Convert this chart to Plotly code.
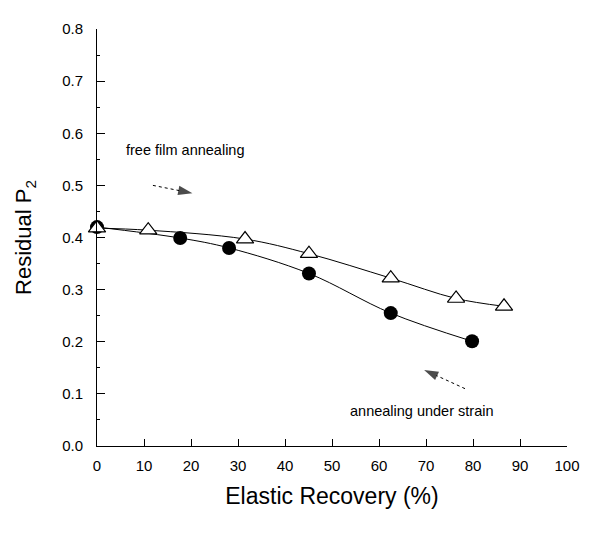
import plotly.graph_objects as go

# Data
strain_x = [0, 17.7, 28.1, 45.1, 62.5, 79.8]
strain_y = [0.42, 0.399, 0.380, 0.331, 0.255, 0.201]
free_x = [0, 10.9, 31.5, 45.1, 62.5, 76.4, 86.6]
free_y = [0.418, 0.414, 0.397, 0.369, 0.322, 0.283, 0.268]

# Arrow indicators (tail -> head)
free_arrow_x = [11.9, 20.3]
free_arrow_y = [0.500, 0.485]
strain_arrow_x = [78.3, 69.6]
strain_arrow_y = [0.110, 0.146]

x_ticks = list(range(0, 101, 10))
y_ticks = [0.0, 0.1, 0.2, 0.3, 0.4, 0.5, 0.6, 0.7, 0.8]

FONT = "Liberation Sans, Arial, sans-serif"

fig = go.Figure()
fig.add_trace(go.Scatter(
    x=strain_x, y=strain_y, mode="lines+markers", line_shape="spline",
    line=dict(color="black", width=1),
    marker=dict(symbol="circle", size=14, color="black"),
    cliponaxis=False, showlegend=False, name="annealing under strain"))
fig.add_trace(go.Scatter(
    x=free_x, y=free_y, mode="lines+markers", line_shape="spline",
    line=dict(color="black", width=1),
    marker=dict(symbol="triangle-up", size=15, color="white",
                line=dict(color="black", width=1.2)),
    cliponaxis=False, showlegend=False, name="free film annealing"))

for ax_, ay_ in ((free_arrow_x, free_arrow_y), (strain_arrow_x, strain_arrow_y)):
    fig.add_trace(go.Scatter(
        x=ax_, y=ay_, mode="lines+markers",
        line=dict(color="black", width=1, dash="dot"),
        marker=dict(symbol="arrow", size=[0, 15], angleref="previous", color="black",
                    line=dict(width=0)),
        showlegend=False, hoverinfo="skip"))

fig.add_annotation(x=18.9, y=0.567, text="free film annealing", showarrow=False,
                   font=dict(size=14.5, color="black", family=FONT))
fig.add_annotation(x=69.2, y=0.068, text="annealing under strain", showarrow=False,
                   font=dict(size=14.5, color="black", family=FONT))

fig.update_layout(
    width=603, height=538,
    margin=dict(l=89, r=44, t=17, b=100),
    plot_bgcolor="white", paper_bgcolor="white",
    font=dict(family=FONT, color="black"),
)
fig.update_xaxes(
    range=[0, 100], tickvals=x_ticks, ticktext=[str(v) for v in x_ticks],
    showgrid=False, zeroline=False, showline=True, linecolor="black", linewidth=1,
    ticks="inside", ticklen=7, tickcolor="black", tickfont=dict(size=15),
    ticklabelstandoff=6,
    title=dict(text="Elastic Recovery (%)", font=dict(size=23), standoff=14),
)
fig.update_yaxes(
    range=[0, 0.8], tickvals=y_ticks, ticktext=[f"{v:.1f}" for v in y_ticks],
    showgrid=False, zeroline=False, showline=True, linecolor="black", linewidth=1,
    ticks="inside", ticklen=8, tickcolor="black", tickfont=dict(size=15),
    ticklabelstandoff=10,
    minor=dict(dtick=0.05, ticks="inside", ticklen=3, tickcolor="black"),
    title=dict(text="Residual P<sub>2</sub>", font=dict(size=22), standoff=24),
)

fig.write_html("out.html")
